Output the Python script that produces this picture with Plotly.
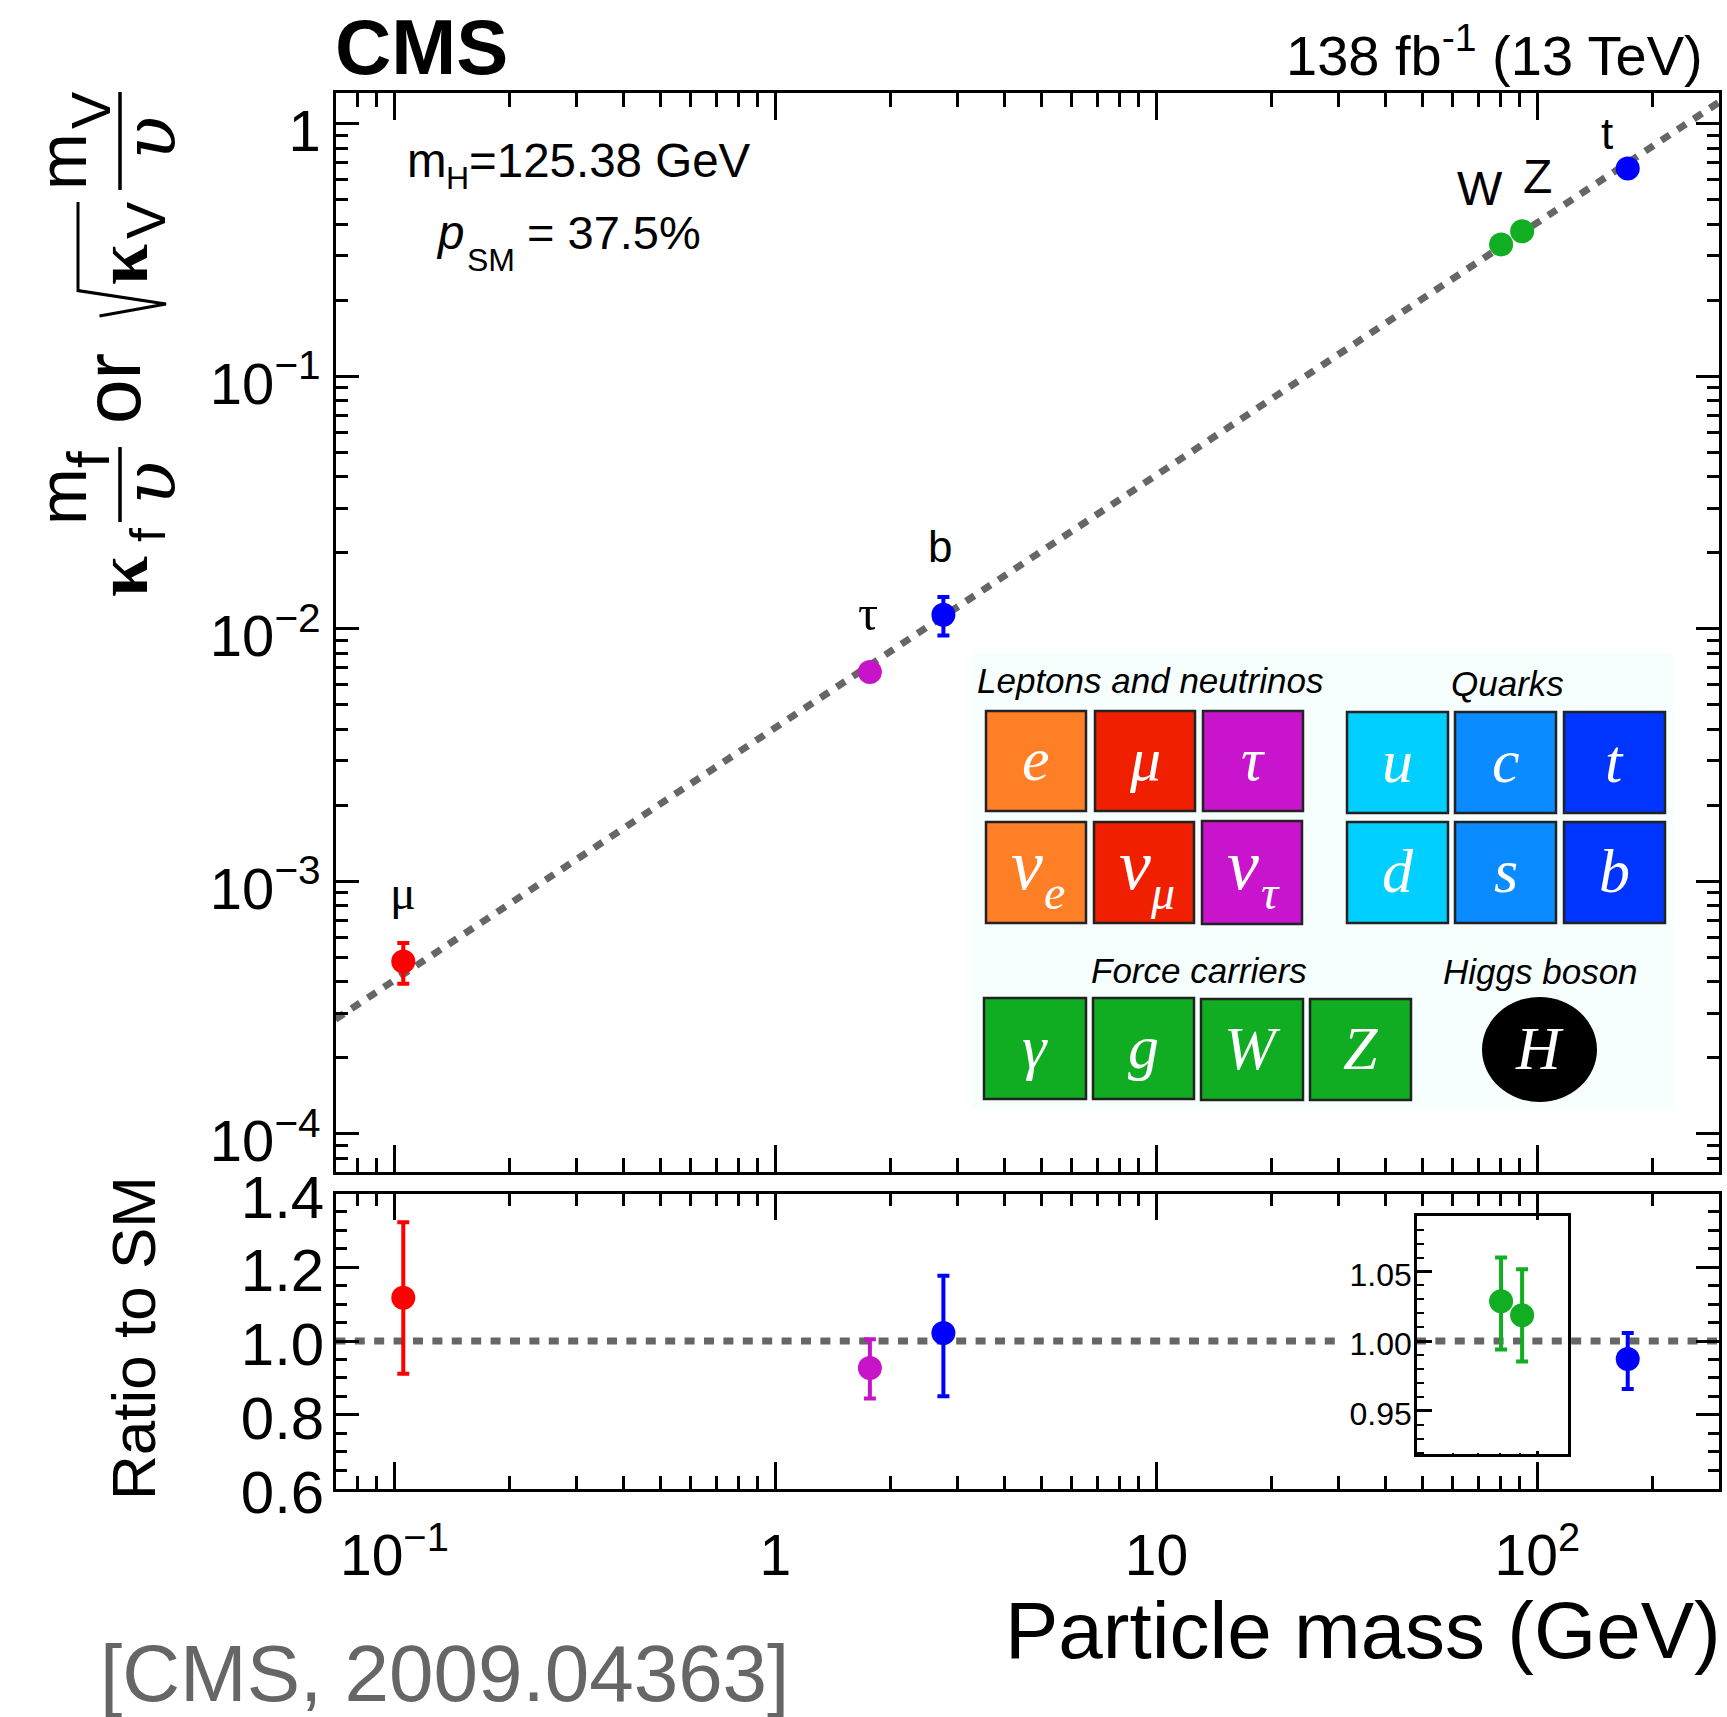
import plotly.graph_objects as go

# ---------- data ----------
mass_mu, mass_tau, mass_b, mass_W, mass_Z, mass_t = 0.1055, 1.77, 2.76, 80.3, 91.2, 172.6
main_x = [mass_mu, mass_tau, mass_b, mass_W, mass_Z, mass_t]
main_y = [4.81e-4, 6.74e-3, 1.137e-2, 0.3325, 0.375, 0.664]
main_hi = [5.70e-4, 6.95e-3, 1.336e-2, 0.338, 0.381, 0.676]
main_lo = [3.93e-4, 6.40e-3, 9.40e-3, 0.327, 0.369, 0.652]
colors = ["#ff0000", "#c814c8", "#0000ff", "#11ad22", "#11ad22", "#0000ff"]
labels = ["μ", "τ", "b", "W", "Z", "t"]

sm_x = [0.07, 300]
sm_y = [2.84e-4, 1.218]

ratio_x = [mass_mu, mass_tau, mass_b, mass_t]
ratio_y = [1.117, 0.927, 1.022, 0.951]
ratio_hi = [1.322, 1.005, 1.177, 1.022]
ratio_lo = [0.911, 0.844, 0.850, 0.870]
ratio_col = ["#ff0000", "#c814c8", "#0000ff", "#0000ff"]
ratio_line_x = [0.07, 30.3, None, 48, 300]
ratio_line_y = [1, 1, None, 1, 1]

inset_x = [mass_W, mass_Z]
inset_y = [1.0287, 1.0185]
inset_hi = [1.060, 1.0515]
inset_lo = [0.994, 0.9854]

x_major = [0.1, 1, 10, 100]
x_major_text = ["10<sup>−1</sup>", "1", "10", "10<sup>2</sup>"]
x_minor = [m * d for d in (0.01, 0.1, 1, 10, 100) for m in range(2, 10)]
y_major = [1e-4, 1e-3, 1e-2, 1e-1, 1]
y_major_text = ["10<sup>−4</sup>", "10<sup>−3</sup>", "10<sup>−2</sup>", "10<sup>−1</sup>", "1"]
y_minor = [m * d for d in (1e-5, 1e-4, 1e-3, 1e-2, 1e-1, 1) for m in range(2, 10)]
r_major = [0.6, 0.8, 1.0, 1.2, 1.4]
r_major_text = ["0.6", "0.8", "1.0", "1.2", "1.4"]
r_minor = [0.65, 0.7, 0.75, 0.85, 0.9, 0.95, 1.05, 1.1, 1.15, 1.25, 1.3, 1.35]
i_major = [0.95, 1.00, 1.05]
i_major_text = ["0.95", "1.00", "1.05"]
i_minor = [0.92, 0.93, 0.94, 0.96, 0.97, 0.98, 0.99, 1.01, 1.02, 1.03, 1.04, 1.06, 1.07, 1.08, 1.09]

# ---------- geometry ----------
W, H = 1727, 1717
L, R = 336, 1719
SANS = "Liberation Sans"
SERIF = "Liberation Serif"
def px(x): return x / W
def py(y): return 1 - y / H

fig = go.Figure()

def err_trace(x, y, hi, lo, col, xa, ya):
    return go.Scatter(
        x=x, y=y, xaxis=xa, yaxis=ya, mode="markers",
        marker=dict(size=24, color=col, line=dict(width=0)),
        error_y=dict(type="data", symmetric=False,
                     array=[h - v for h, v in zip(hi, y)],
                     arrayminus=[v - l for v, l in zip(y, lo)],
                     color=col, thickness=4, width=6),
        showlegend=False, hoverinfo="skip")

DOT = dict(color="#666666", width=7, dash="10px,9.4px")
fig.add_trace(go.Scatter(x=sm_x, y=sm_y, mode="lines", line=DOT, xaxis="x", yaxis="y", showlegend=False))
for i in range(len(main_x)):
    fig.add_trace(err_trace([main_x[i]], [main_y[i]], [main_hi[i]], [main_lo[i]], colors[i], "x", "y"))
fig.add_trace(go.Scatter(x=ratio_line_x, y=ratio_line_y, mode="lines", line=DOT, xaxis="x2", yaxis="y2", showlegend=False))
for i in range(len(ratio_x)):
    fig.add_trace(err_trace([ratio_x[i]], [ratio_y[i]], [ratio_hi[i]], [ratio_lo[i]], ratio_col[i], "x2", "y2"))
fig.add_trace(err_trace(inset_x, inset_y, inset_hi, inset_lo, "#11ad22", "x3", "y3"))

AX = dict(showgrid=False, zeroline=False, showline=True, linecolor="black", linewidth=2.5,
          ticks="inside", tickcolor="black", tickwidth=2.5, mirror="allticks", tickmode="array")
def minor(vals, ln, w=2.5):
    return dict(tickmode="array", tickvals=vals, ticks="inside", ticklen=ln, tickwidth=w, tickcolor="black", showgrid=False)

annots = []
def T(x, y, s, size, col="black", fam=SANS, angle=0, xa="center", ya="middle"):
    annots.append(dict(x=px(x), y=py(y), xref="paper", yref="paper", text=s, showarrow=False,
                       font=dict(size=size, color=col, family=fam), textangle=angle,
                       xanchor=xa, yanchor=ya, borderpad=0, borderwidth=0))

shapes = []
def box(x0, y0, x1, y1, col, line="#222222", w=2.5):
    shapes.append(dict(type="rect", xref="paper", yref="paper", x0=px(x0), x1=px(x1), y0=py(y1), y1=py(y0),
                       fillcolor=col, line=dict(color=line, width=w), layer="above"))
def seg(pts, w=2.5):
    p = "M " + " L ".join(f"{px(a):.5f},{py(b):.5f}" for a, b in pts)
    shapes.append(dict(type="path", xref="paper", yref="paper", path=p, line=dict(color="black", width=w), layer="above"))

# --- header and free text
T(335, 47, "<b>CMS</b>", 78, xa="left")
T(1703, 51, "138 fb<sup>-1</sup> (13 TeV)", 56, xa="right")
T(407, 161, "m", 47.5, xa="left")
T(446, 178, "H", 32, xa="left")
T(469, 161, "=125.38 GeV", 47.5, xa="left")
T(436, 232, "<i>p</i>", 47.5, xa="left")
T(467, 260, "SM", 32, xa="left")
T(527, 232, "= 37.5%", 47, xa="left")
T(1363, 1630, "Particle mass (GeV)", 80)
T(100, 1673, "[CMS, 2009.04363]", 80, col="#666666", xa="left")
T(133, 1338, "Ratio to SM", 62, angle=-90)

# --- particle labels
T(403, 892, "μ", 48, fam=SERIF)
T(868, 613, "τ", 50, fam=SERIF)
T(940, 547, "b", 44)
T(1480, 188, "W", 48)
T(1537, 176, "Z", 48)
T(1607, 134, "t", 44)

# --- y title
T(62, 162, "m", 68, angle=-90)
T(90, 110, "V", 56, angle=-90)
shapes.append(dict(type="line", xref="paper", yref="paper", x0=px(120), x1=px(120), y0=py(92), y1=py(190), line=dict(color="black", width=3.5)))
T(150, 138, "<i>υ</i>", 72, fam="DejaVu Serif", angle=-90)
T(122, 265, "<b>κ</b>", 74, fam=SERIF, angle=-90)
T(146, 220, "V", 56, angle=-90)
seg([(78, 202), (78, 290.6), (166, 304), (99.5, 316)], 3)
T(113, 388, "or", 80, angle=-90)
T(62, 497, "m", 68, angle=-90)
T(88, 460, "f", 60, angle=-90)
shapes.append(dict(type="line", xref="paper", yref="paper", x0=px(120), x1=px(120), y0=py(447), y1=py(522), line=dict(color="black", width=3.5)))
T(150, 483, "<i>υ</i>", 72, fam="DejaVu Serif", angle=-90)
T(122, 577, "<b>κ</b>", 74, fam=SERIF, angle=-90)
T(148, 535, "f", 50, angle=-90)

# --- particle table
box(973, 653, 1673, 1110, "#f7fffe", line="#f7fffe", w=0)
T(1150, 681, "<i>Leptons and neutrinos</i>", 35)
T(1507, 683, "<i>Quarks</i>", 35)
T(1199, 970, "<i>Force carriers</i>", 35)
T(1540, 971, "<i>Higgs boson</i>", 35)
ORANGE, RED, MAG = "#ff7f27", "#ef1f00", "#c814cc"
LB, MB, DB, GR = "#00cfff", "#0a8bff", "#0035ff", "#10ad22"
cells = [
    (986, 711, 1086, 811, ORANGE, "e", ""), (1095, 711, 1195, 811, RED, "μ", ""), (1203, 711, 1303, 811, MAG, "τ", ""),
    (986, 822, 1086, 923, ORANGE, "ν", "e"), (1094, 822, 1194, 923, RED, "ν", "μ"), (1202, 821, 1302, 924, MAG, "ν", "τ"),
    (1347, 712, 1448, 813, LB, "u", ""), (1455, 712, 1556, 813, MB, "c", ""), (1564, 712, 1665, 813, DB, "t", ""),
    (1347, 822, 1448, 923, LB, "d", ""), (1455, 822, 1556, 923, MB, "s", ""), (1564, 822, 1665, 923, DB, "b", ""),
    (984, 998, 1086, 1099, GR, "γ", ""), (1093, 998, 1194, 1099, GR, "g", ""), (1201, 999, 1303, 1100, GR, "W", ""), (1310, 999, 1411, 1100, GR, "Z", ""),
]
for x0, y0, x1, y1, col, s, sub in cells:
    box(x0, y0, x1, y1, col)
    cx, cy = (x0 + x1) / 2, (y0 + y1) / 2
    if sub:
        T(cx - 9, cy - 8, f"<i>{s}</i>", 72, col="white", fam=SERIF)
        T(cx + 18, cy + 20, f"<i>{sub}</i>", 48, col="white", fam=SERIF)
    else:
        T(cx, cy - 2, f"<i>{s}</i>", 62, col="white", fam=SERIF)
shapes.append(dict(type="circle", xref="paper", yref="paper", x0=px(1482), x1=px(1597), y0=py(1102), y1=py(997),
                   fillcolor="black", line=dict(width=0), layer="above"))
T(1539.5, 1048, "<i>H</i>", 62, col="white", fam=SERIF)

fig.update_layout(
    width=W, height=H, margin=dict(l=0, r=0, t=0, b=0, pad=0, autoexpand=False),
    paper_bgcolor="white", plot_bgcolor="rgba(0,0,0,0)",
    font=dict(family=SANS, color="black"), showlegend=False,
    shapes=shapes, annotations=annots,
    xaxis=dict(AX, type="log", domain=[px(L), px(R)], range=[-1.1533, 2.4766], anchor="y",
               tickvals=x_major, ticktext=x_major_text, ticklen=27, showticklabels=False, minor=minor(x_minor, 14)),
    yaxis=dict(AX, type="log", domain=[py(1172), py(93)], range=[-4.1515, 0.1216], anchor="x",
               tickvals=y_major, ticktext=y_major_text, ticklen=23, minor=minor(y_minor, 12),
               tickfont=dict(size=58, family=SANS), ticklabelstandoff=1, ticklabelshift=7),
    xaxis2=dict(AX, type="log", domain=[px(L), px(R)], range=[-1.1533, 2.4766], anchor="y2",
                tickvals=x_major, ticktext=x_major_text, ticklen=27, minor=minor(x_minor, 13),
                tickfont=dict(size=57, family=SANS), ticklabelstandoff=15),
    yaxis2=dict(AX, domain=[py(1488.5), py(1193.5)], range=[0.6, 1.4], anchor="x2",
                tickvals=r_major, ticktext=r_major_text, ticklen=23, minor=minor(r_minor, 11),
                tickfont=dict(size=60, family=SANS), ticklabelstandoff=-3, ticklabelshift=3),
    xaxis3=dict(AX, type="log", domain=[px(1417), px(1568)], range=[1.684, 2.0805], anchor="y3",
                tickvals=[100], ticktext=[""], ticklen=3, mirror=True, showticklabels=False,
                minor=minor([50, 60, 70, 80, 90], 1.5, 1.5)),
    yaxis3=dict(AX, domain=[py(1454), py(1216)], range=[0.919, 1.0898], anchor="x3",
                tickvals=i_major, ticktext=i_major_text, ticklen=15, mirror=True, minor=minor(i_minor, 7.5, 2),
                tickfont=dict(size=32, family=SANS), ticklabelstandoff=-4, ticklabelshift=3),
)

fig.write_html("out.html", config=dict(displayModeBar=False),
               post_script="document.body.style.margin='0';document.body.style.overflow='hidden';")
